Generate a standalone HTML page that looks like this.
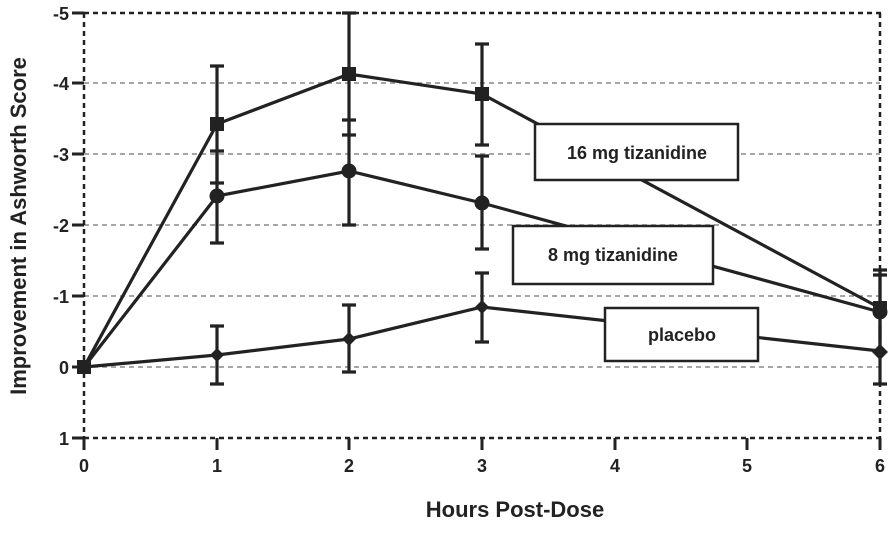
<!DOCTYPE html>
<html><head><style>body{margin:0;background:#fff}</style></head><body>
<svg width="888" height="528" xmlns="http://www.w3.org/2000/svg" font-family="Liberation Sans, sans-serif" font-weight="bold">
<g stroke="#888" stroke-width="1.5" stroke-dasharray="5,4">
<line x1="84" y1="83" x2="880" y2="83"/><line x1="84" y1="154" x2="880" y2="154"/><line x1="84" y1="225" x2="880" y2="225"/><line x1="84" y1="296" x2="880" y2="296"/><line x1="84" y1="367" x2="880" y2="367"/>
</g>
<g stroke="#222" stroke-width="2.5" stroke-dasharray="5,4" fill="none">
<line x1="84" y1="13" x2="882" y2="13"/><line x1="84" y1="438" x2="882" y2="438"/><line x1="84" y1="13" x2="84" y2="438"/><line x1="880" y1="13" x2="880" y2="438"/>
</g>
<g stroke="#222" stroke-width="3">
<line x1="72" y1="13" x2="84" y2="13"/><line x1="72" y1="83" x2="84" y2="83"/><line x1="72" y1="154" x2="84" y2="154"/><line x1="72" y1="225" x2="84" y2="225"/><line x1="72" y1="296" x2="84" y2="296"/><line x1="72" y1="367" x2="84" y2="367"/><line x1="72" y1="438" x2="84" y2="438"/>
<line x1="84" y1="438" x2="84" y2="450"/><line x1="217" y1="438" x2="217" y2="450"/><line x1="349" y1="438" x2="349" y2="450"/><line x1="482" y1="438" x2="482" y2="450"/><line x1="615" y1="438" x2="615" y2="450"/><line x1="747" y1="438" x2="747" y2="450"/><line x1="880" y1="438" x2="880" y2="450"/>
</g>
<g font-size="18" text-anchor="end" fill="#222">
<text x="69" y="20">-5</text><text x="69" y="90">-4</text><text x="69" y="161">-3</text><text x="69" y="232">-2</text><text x="69" y="303">-1</text><text x="69" y="374">0</text><text x="69" y="445">1</text>
</g>
<g font-size="18" text-anchor="middle" fill="#222">
<text x="84" y="472">0</text><text x="217" y="472">1</text><text x="349" y="472">2</text><text x="482" y="472">3</text><text x="615" y="472">4</text><text x="747" y="472">5</text><text x="880" y="472">6</text>
</g>
<text x="515" y="517" font-size="22" text-anchor="middle" fill="#222">Hours Post-Dose</text>
<text transform="translate(26,226) rotate(-90)" font-size="22" text-anchor="middle" fill="#222">Improvement in Ashworth Score</text>
<g stroke="#222" stroke-width="3.2" fill="none">
<path d="M217 66V183M210 66h14M210 183h14"/>
<path d="M349 13V135M342 13h14M342 135h14"/>
<path d="M482 44V145M475 44h14M475 145h14"/>
<path d="M880 270V340M873 270h14"/>
<path d="M217 151V243M210 151h14M210 243h14"/>
<path d="M349 120V225M342 120h14M342 225h14"/>
<path d="M482 156V249M475 156h14M475 249h14"/>
<path d="M880 275V350M873 275h14"/>
<path d="M217 326V384M210 326h14M210 384h14"/>
<path d="M349 305V372M342 305h14M342 372h14"/>
<path d="M482 273V342M475 273h14M475 342h14"/>
<path d="M880 325V384M873 384h14"/>
<polyline points="84,367 217,124 349,74 482,94 880,308"/>
<polyline points="84,367 217,196 349,171 482,203 880,312"/>
<polyline points="84,367 217,355 349,339 482,307 880,351"/>
</g>
<g fill="#222">
<rect x="77" y="360" width="14" height="14"/>
<rect x="210" y="117" width="14" height="14"/><rect x="342" y="67" width="14" height="14"/><rect x="475" y="87" width="14" height="14"/><rect x="873" y="301" width="14" height="14"/>
<circle cx="217" cy="196" r="7.5"/><circle cx="349" cy="171" r="7.5"/><circle cx="482" cy="203" r="7.5"/><circle cx="880" cy="312" r="7.5"/>
<path d="M217 348l7 7-7 7-7-7z"/><path d="M349 332l7 7-7 7-7-7z"/><path d="M482 300l7 7-7 7-7-7z"/><path d="M880 344l8 8-8 8-8-8z"/>
</g>
<g fill="#fff" stroke="#222" stroke-width="2.5">
<rect x="535" y="124" width="203" height="56"/>
<rect x="513" y="226" width="200" height="58"/>
<rect x="605" y="308" width="153" height="53"/>
</g>
<g font-size="18" text-anchor="middle" fill="#222">
<text x="637" y="159">16 mg tizanidine</text>
<text x="613" y="261">8 mg tizanidine</text>
<text x="682" y="341">placebo</text>
</g>
</svg>
</body></html>
